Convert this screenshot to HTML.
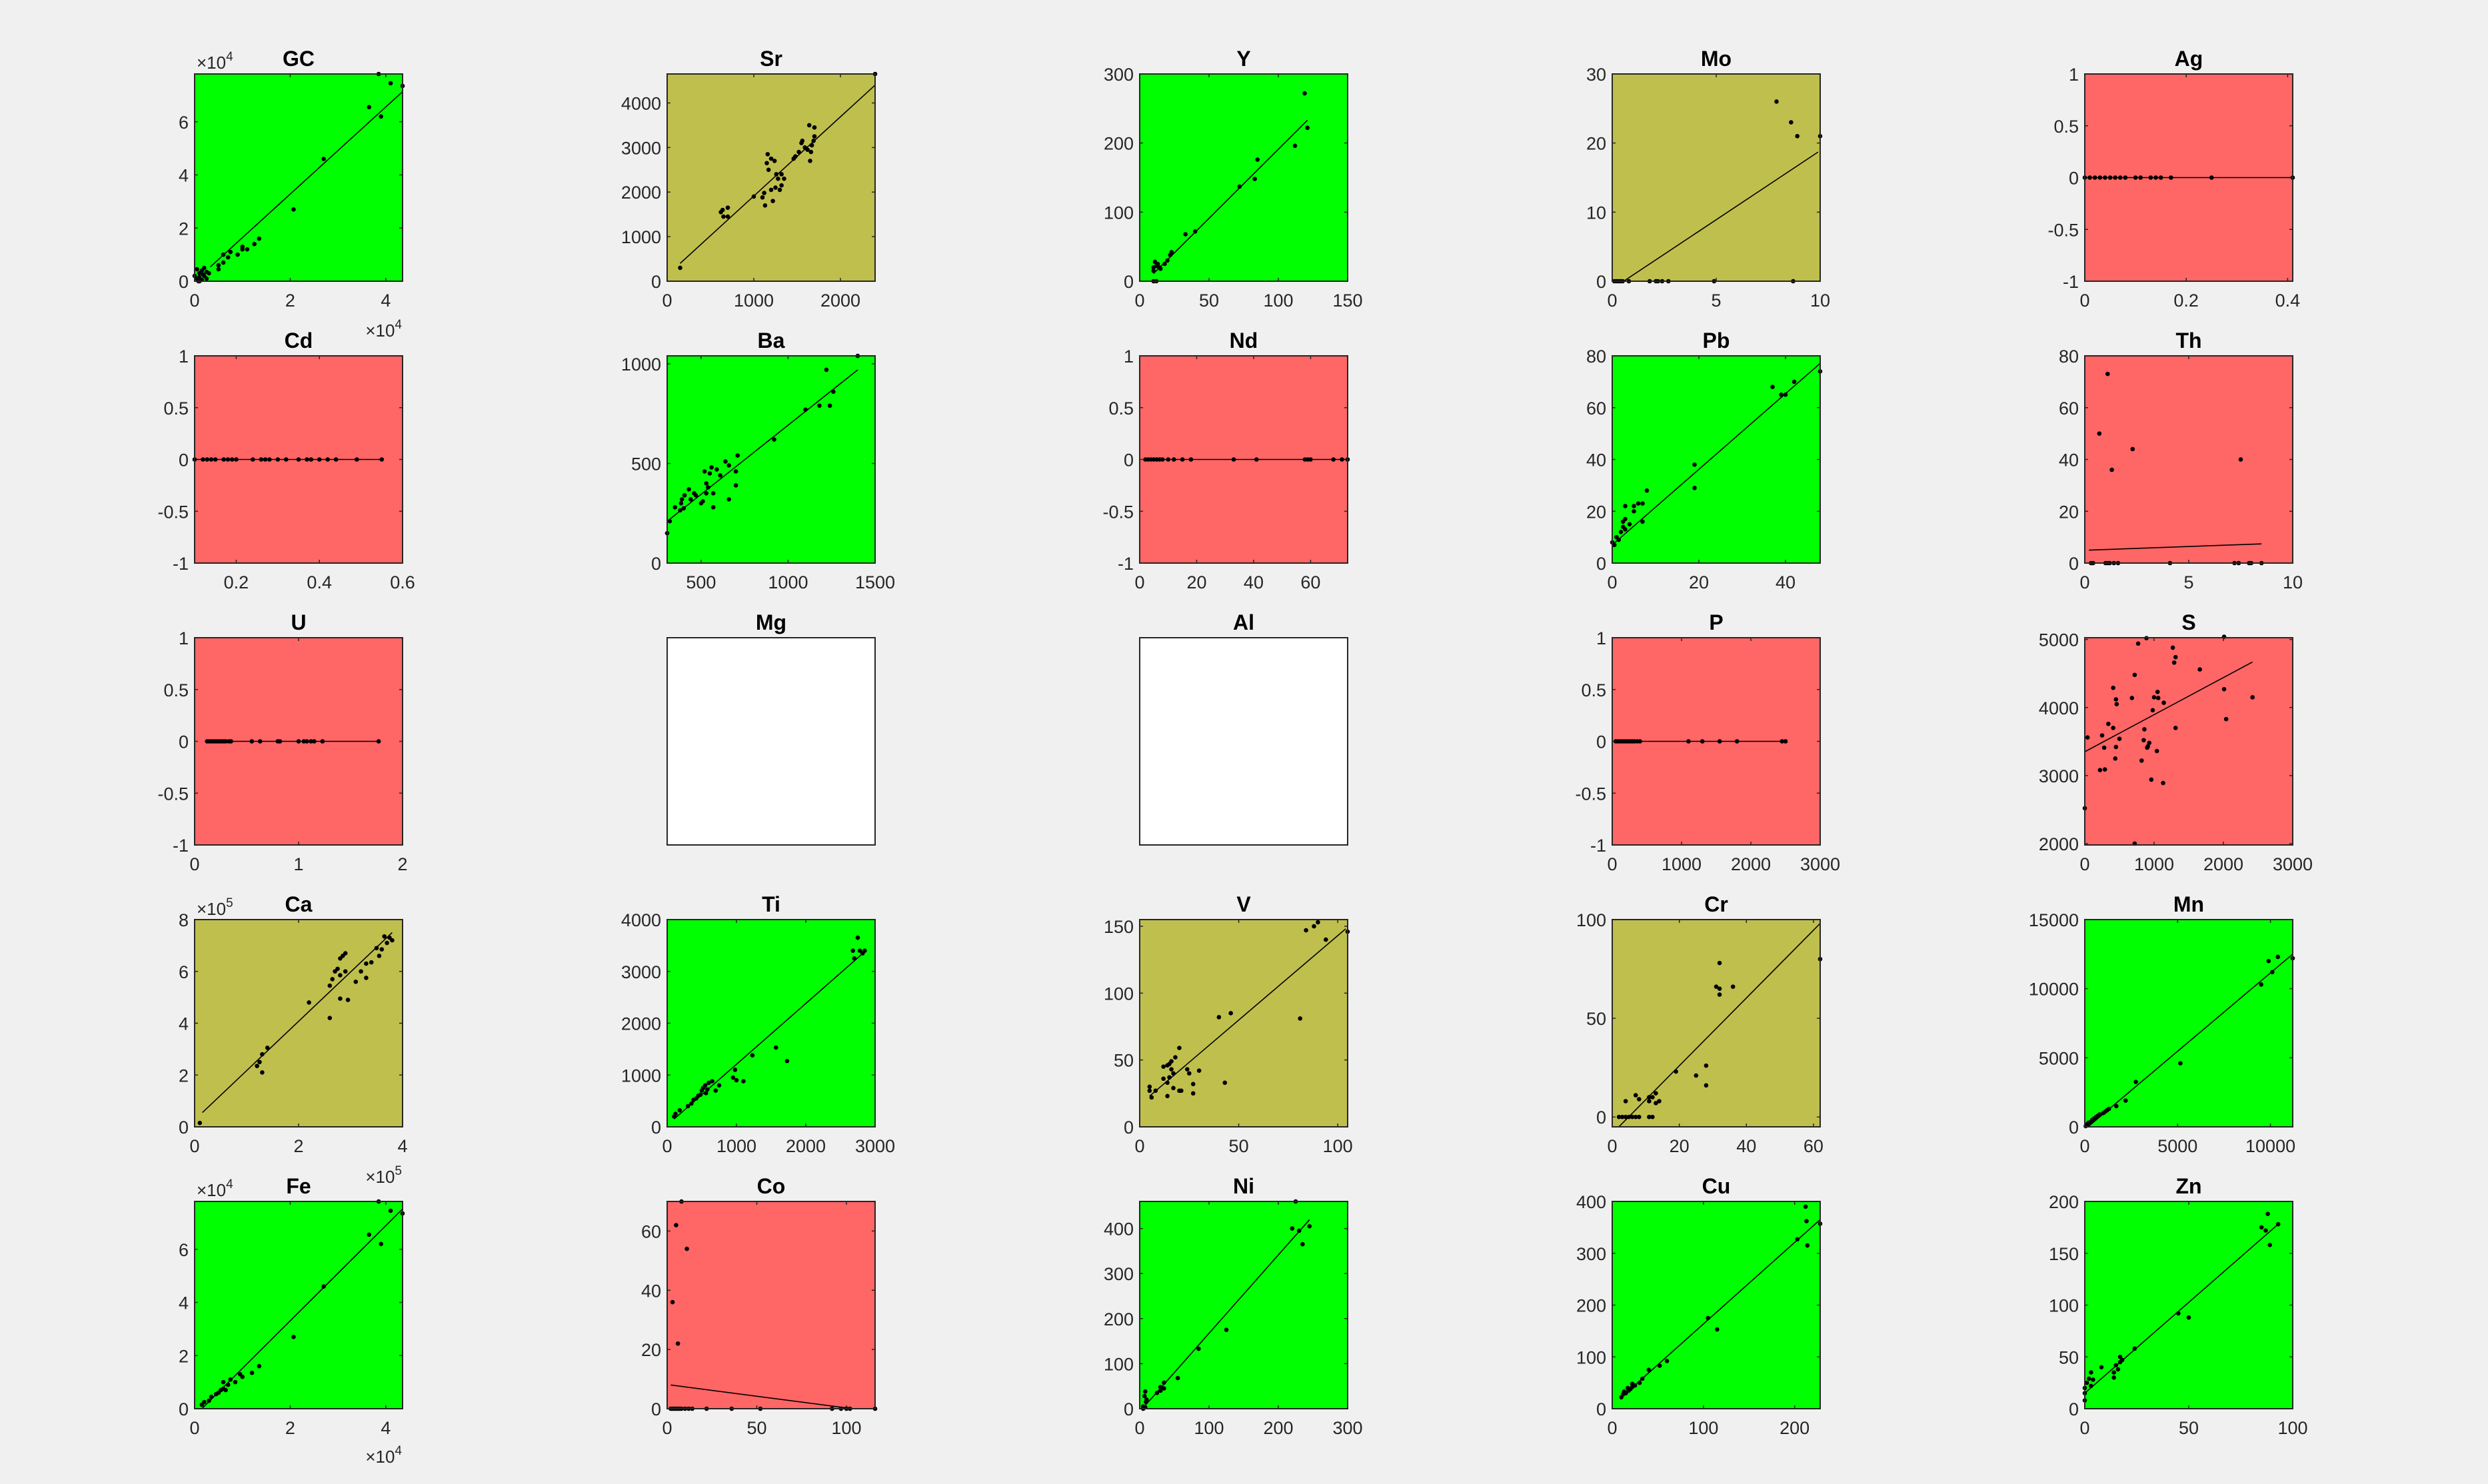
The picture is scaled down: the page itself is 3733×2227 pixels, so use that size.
<!DOCTYPE html>
<html><head><meta charset="utf-8"><title>Element scatter grid</title>
<style>
html,body{margin:0;padding:0;background:#f0f0f0;}
svg{display:block;font-family:"Liberation Sans",Arial,sans-serif;}
</style></head>
<body>
<svg id="fig" width="3733" height="2227" viewBox="0 0 3733 2227" xmlns="http://www.w3.org/2000/svg">
<rect x="0" y="0" width="3733" height="2227" fill="#f0f0f0"/>
</svg>
<script>
// ---- panel configuration ----
const panelNames = ["GC","Sr","Y","Mo","Ag","Cd","Ba","Nd","Pb","Th","U","Mg","Al","P","S","Ca","Ti","V","Cr","Mn","Fe","Co","Ni","Cu","Zn"];
const panelColors = ["#00ff00","#bfbf4e","#00ff00","#bfbf4e","#ff6666","#ff6666","#00ff00","#ff6666","#00ff00","#ff6666","#ff6666","#ffffff","#ffffff","#ff6666","#ff6666","#bfbf4e","#00ff00","#bfbf4e","#bfbf4e","#00ff00","#00ff00","#ff6666","#00ff00","#00ff00","#00ff00"];
const xMin = [0,0,0,0,0,0.1,305,0,0,0,0,0,0,0,0,0,0,0,0,0,0,0,0,0,0];
const xMax = [4.35,2400,150,10,0.41,0.6,1500,73,48,10,2,1,1,3000,3000,4,3000,105,62,11200,4.35,116,300,228,100];
const yMin = [0,0,0,0,-1,-1,0,-1,0,0,-1,0,0,-1,1980,0,0,0,-5,0,0,0,0,0,0];
const yMax = [7.8,4650,300,30,1,1,1040,1,80,80,1,1,1,1,5026,8,4000,155,100,15000,7.8,70,460,400,200];
const xTicks = [[0,2,4],[0,1000,2000],[0,50,100,150],[0,5,10],[0,0.2,0.4],[0.2,0.4,0.6],[500,1000,1500],[0,20,40,60],[0,20,40],[0,5,10],[0,1,2],[],[],[0,1000,2000,3000],[0,1000,2000,3000],[0,2,4],[0,1000,2000,3000],[0,50,100],[0,20,40,60],[0,5000,10000],[0,2,4],[0,50,100],[0,100,200,300],[0,100,200],[0,50,100]];
const yTicks = [[0,2,4,6],[0,1000,2000,3000,4000],[0,100,200,300],[0,10,20,30],[-1,-0.5,0,0.5,1],[-1,-0.5,0,0.5,1],[0,500,1000],[-1,-0.5,0,0.5,1],[0,20,40,60,80],[0,20,40,60,80],[-1,-0.5,0,0.5,1],[],[],[-1,-0.5,0,0.5,1],[2000,3000,4000,5000],[0,2,4,6,8],[0,1000,2000,3000,4000],[0,50,100,150],[0,50,100],[0,5000,10000,15000],[0,2,4,6],[0,20,40,60],[0,100,200,300,400],[0,100,200,300,400],[0,50,100,150,200]];
// fitted line: slope, intercept, x-range
const fitSlope = [1.64,1.778,2.0,2.0,0,0,0.694,0,1.46,0.29,0,null,null,0,0.545,1.904,1.174,1.263,1.717,1.134,1.79,-0.079,1.74,1.573,1.753];
const fitIntercept = [0.0,133,-9,-1.1,0,0,-2,0,7,4.95,0,null,null,0,3350,0.265,32.6,16.7,-8.4,-200,-0.27,8.16,-6.7,6.3,15];
const fitX0 = [0.33,150,10,0,0,0.1,305,2,0,0.2,0.12,null,null,50,0,0.15,100,5,2,0,0.15,2,5,10,0];
const fitX1 = [4.35,2400,121,9.9,0.41,0.55,1400,73,48,8.5,1.77,null,null,2500,2420,3.8,2800,104,62,11200,4.35,116,245,228,93];

// ---- data arrays ----
const GC_x = [0.05,0.1,0.15,0.2,0.1,0.25,0.05,0.2,0.15,0.3,0.25,0.0,0.1,0.18,0.08,0.5,0.6,0.7,0.75,0.6,0.9,1.0,1.0,1.1,1.25,1.35,0.5,2.07,2.7,3.65,3.9,3.85,4.1,4.35];
const GC_y = [0.1,0.3,0.4,0.2,0.0,0.35,0.45,0.5,0.05,0.3,0.1,0.2,0.15,0.25,0.0,0.6,0.7,0.9,1.1,1.0,1.0,1.3,1.2,1.2,1.4,1.6,0.45,2.7,4.6,6.55,6.2,7.8,7.45,7.35];
const Sr_x = [150,620,640,700,650,700,1000,1100,1120,1130,1150,1160,1170,1200,1240,1200,1220,1250,1260,1280,1300,1320,1320,1350,1460,1480,1520,1550,1560,1590,1620,1650,1660,1640,1700,1700,1690,1670,2400];
const Sr_y = [300,1550,1600,1650,1450,1450,1900,1880,1980,1700,2650,2850,2500,2750,2700,2050,1800,2100,2400,2300,2050,2400,2150,2300,2750,2800,2900,3100,3150,3000,2950,2700,2900,3500,3450,3250,3150,3050,4650];
const Y_x = [10,12,10,10,12,14,11,13,15,18,20,22,23,33,40,72,83,85,112,119,121];
const Y_y = [0,0,15,20,22,20,28,25,18,25,30,38,42,68,72,137,148,176,196,272,222];
const Mo_x = [0.1,0.2,0.3,0.4,0.5,0.8,1.8,2.1,2.2,2.4,2.7,4.9,8.7,7.9,8.6,8.9,10];
const Mo_y = [0,0,0,0,0,0,0,0,0,0,0,0,0,26,23,21,21];
const Ag_x = [0,0.01,0.02,0.03,0.04,0.05,0.06,0.07,0.08,0.1,0.11,0.13,0.14,0.15,0.17,0.25,0.41];
const Ag_y = [0,0,0,0,0,0,0,0,0,0,0,0,0,0,0,0,0];
const Cd_x = [0.1,0.12,0.13,0.14,0.15,0.17,0.18,0.19,0.2,0.24,0.26,0.27,0.28,0.3,0.32,0.35,0.37,0.38,0.4,0.42,0.44,0.49,0.55];
const Cd_y = [0,0,0,0,0,0,0,0,0,0,0,0,0,0,0,0,0,0,0,0,0,0,0];
const Ba_x = [305,320,350,380,385,390,400,405,430,440,460,470,500,510,520,530,530,540,550,560,570,570,590,610,640,660,660,700,700,710,920,1100,1180,1240,1260,1220,1400];
const Ba_y = [150,210,280,265,300,320,275,340,370,320,350,340,300,310,460,400,350,380,450,480,280,350,470,440,510,320,490,390,460,540,620,770,790,790,860,970,1040];
const Nd_x = [2,3,4,5,6,7,8,10,12,15,18,33,41,58,59,60,68,71,73];
const Nd_y = [0,0,0,0,0,0,0,0,0,0,0,0,0,0,0,0,0,0,0];
const Pb_x = [0,0.5,1,1.5,2,2.5,2.5,3,3,4,3,5,5,6,7,7,8,19,19,37,39,40,42,48];
const Pb_y = [8,7,10,9,12,14,16,13,17,15,22,20,22,23,16,23,28,38,29,68,65,65,70,74];
const Th_x = [0.3,0.4,1,1.1,1.2,1.4,1.6,4.1,7.2,7.4,7.9,8.0,8.5,0.7,1.1,1.3,2.3,7.5];
const Th_y = [0,0,0,0,0,0,0,0,0,0,0,0,0,50,73,36,44,40];
const U_x = [0.12,0.14,0.16,0.18,0.2,0.22,0.24,0.26,0.28,0.3,0.33,0.35,0.55,0.63,0.8,0.82,1.0,1.05,1.08,1.12,1.15,1.23,1.77];
const U_y = [0,0,0,0,0,0,0,0,0,0,0,0,0,0,0,0,0,0,0,0,0,0,0];
const Mg_x = [];
const Mg_y = [];
const Al_x = [];
const Al_y = [];
const P_x = [50,80,110,140,170,200,230,260,290,320,360,400,1100,1300,1550,1800,2450,2500];
const P_y = [0,0,0,0,0,0,0,0,0,0,0,0,0,0,0,0,0,0];
const S_x = [0,40,250,280,220,290,340,410,410,440,450,450,460,500,680,720,720,770,820,850,860,890,900,910,930,960,980,1000,1040,1050,1060,1130,1140,1270,1290,1310,1310,1660,2010,2010,2040,2420];
const S_y = [2520,3560,3590,3410,3080,3090,3760,3700,4290,3250,4120,3420,4050,3540,4140,4480,2000,4940,3220,3520,3680,5020,3410,3430,3480,2940,3960,4150,3360,4230,4140,2890,4070,4880,4660,4740,3700,4560,4270,5040,3830,4150];
const Ca_x = [0.1,1.2,1.25,1.3,1.3,1.4,2.2,2.6,2.6,2.65,2.7,2.75,2.8,2.8,2.85,2.9,2.9,2.8,2.95,3.1,3.2,3.3,3.3,3.4,3.5,3.55,3.6,3.65,3.7,3.75,3.8];
const Ca_y = [0.15,2.35,2.5,2.8,2.1,3.05,4.8,4.2,5.45,5.7,6.0,6.1,5.85,6.5,6.6,6.7,6.0,4.95,4.9,5.6,6.0,5.75,6.3,6.35,6.9,6.6,6.85,7.35,7.1,7.3,7.2];
const Ti_x = [100,120,180,300,350,380,420,450,480,500,520,550,560,580,600,650,700,750,950,980,1000,1100,1230,1570,1730,2680,2700,2750,2780,2820,2850];
const Ti_y = [200,250,320,400,450,520,550,600,620,700,750,800,650,720,850,880,700,800,950,1100,900,880,1380,1530,1270,3400,3250,3650,3400,3350,3400];
const V_x = [5,5,6,8,12,12,14,14,14,15,15,16,16,17,17,18,20,21,20,24,25,27,27,30,40,43,46,81,84,88,90,94,105];
const V_y = [27,30,22,27,36,45,46,23,33,37,47,43,49,29,40,52,27,27,59,43,40,25,32,42,82,33,85,81,147,150,153,140,146];
const Cr_x = [2,3,4,5,6,7,8,4,7,8,11,11,12,11,12,13,13,14,19,25,28,28,31,32,32,32,36,62];
const Cr_y = [0,0,0,0,0,0,0,8,11,9,8,10,10,0,0,12,7,8,23,21,26,16,66,65,62,78,66,80];
const Mn_x = [50,100,150,200,300,400,500,600,700,800,1000,1100,1200,1300,1700,2200,2750,5150,9500,9900,10100,10400,11200];
const Mn_y = [50,150,200,300,350,500,600,700,800,900,1000,1100,1200,1300,1500,1900,3250,4600,10300,12000,11200,12300,12200];
const Fe_x = [0.15,0.2,0.3,0.35,0.45,0.5,0.55,0.6,0.6,0.65,0.7,0.75,0.85,0.95,1.0,1.2,1.35,2.07,2.7,3.65,3.9,3.85,4.1,4.35];
const Fe_y = [0.15,0.25,0.3,0.45,0.55,0.6,0.7,0.75,1.0,0.7,0.9,1.1,1.0,1.3,1.2,1.35,1.6,2.7,4.6,6.55,6.2,7.8,7.45,7.35];
const Co_x = [2,3,4,5,6,7,8,10,12,14,22,36,52,92,97,100,102,116,3,5,6,8,11];
const Co_y = [0,0,0,0,0,0,0,0,0,0,0,0,0,0,0,0,0,0,36,62,22,70,54];
const Ni_x = [5,6,8,5,7,8,10,9,25,30,30,35,35,55,85,125,220,230,235,245,225];
const Ni_y = [0,2,3,5,28,38,20,15,35,40,48,45,58,68,133,175,400,395,365,405,460];
const Cu_x = [10,12,13,15,17,18,20,22,22,25,30,33,40,52,60,105,115,203,212,213,214,228];
const Cu_y = [22,28,33,30,40,35,38,42,48,45,50,58,75,83,92,175,153,327,390,362,315,357];
const Zn_x = [0,0,0,1,2,3,3,4,8,14,14,15,16,17,17,18,24,45,50,85,87,88,89,93];
const Zn_y = [8,15,20,25,29,35,22,28,40,35,30,42,38,45,50,47,58,92,88,175,172,188,158,178];
const allX = [GC_x,Sr_x,Y_x,Mo_x,Ag_x,Cd_x,Ba_x,Nd_x,Pb_x,Th_x,U_x,Mg_x,Al_x,P_x,S_x,Ca_x,Ti_x,V_x,Cr_x,Mn_x,Fe_x,Co_x,Ni_x,Cu_x,Zn_x];
const allY = [GC_y,Sr_y,Y_y,Mo_y,Ag_y,Cd_y,Ba_y,Nd_y,Pb_y,Th_y,U_y,Mg_y,Al_y,P_y,S_y,Ca_y,Ti_y,V_y,Cr_y,Mn_y,Fe_y,Co_y,Ni_y,Cu_y,Zn_y];

// ---- drawing ----
const NS = "http://www.w3.org/2000/svg";
const svg = document.getElementById("fig");
const AX_W = 312, AX_H = 311;
function mk(tag, attrs, parent) {
  const e = document.createElementNS(NS, tag);
  for (const k in attrs) e.setAttribute(k, attrs[k]);
  (parent || svg).appendChild(e);
  return e;
}
function fmt(v) { return String(v); }
function addExp(x, y, p, anchor, name) {
  const t = mk("text", {x: x, y: y, "font-size": 26, fill: "#262626", "text-anchor": anchor});
  
  
  const a = mk("tspan", {}, t); a.textContent = "×10";
  const b = mk("tspan", {dy: -12, "font-size": 19}, t); b.textContent = String(p);
}
panelNames.forEach(function(name, i) {
  const r = Math.floor(i / 5), c = i % 5;
  const L = 292 + 709 * c, T = 111 + 423 * r, R = L + AX_W, B = T + AX_H;
  const g = mk("g", {});
  
  
  const sx = function(v) { return L + (v - xMin[i]) / (xMax[i] - xMin[i]) * AX_W; };
  const sy = function(v) { return B - (v - yMin[i]) / (yMax[i] - yMin[i]) * AX_H; };
  const bg = mk("rect", {x: L, y: T, width: AX_W, height: AX_H, fill: panelColors[i]}, g);
  
  
  const clipId = "clip" + i;
  const cp = mk("clipPath", {id: clipId}, g);
  mk("rect", {x: L, y: T, width: AX_W, height: AX_H}, cp);
  // ticks and labels
  xTicks[i].forEach(function(v) {
    const x = sx(v);
    const tk = mk("path", {d: "M" + x + " " + B + "v-5M" + x + " " + T + "v5", stroke: "#262626", "stroke-width": 1.5}, g);
    
    
    const lb = mk("text", {x: x, y: B + 38, "font-size": 27, fill: "#262626", "text-anchor": "middle"}, g);
    
    
    lb.textContent = fmt(v);
  });
  yTicks[i].forEach(function(v) {
    const y = sy(v);
    const tk = mk("path", {d: "M" + L + " " + y + "h5M" + R + " " + y + "h-5", stroke: "#262626", "stroke-width": 1.5}, g);
    
    
    const lb = mk("text", {x: L - 9, y: y + 10, "font-size": 27, fill: "#262626", "text-anchor": "end"}, g);
    
    
    lb.textContent = fmt(v);
  });
  // fit line
  if (fitSlope[i] !== null) {
    const x0 = fitX0[i], x1 = fitX1[i];
    const ln = mk("line", {x1: sx(x0), y1: sy(fitSlope[i] * x0 + fitIntercept[i]), x2: sx(x1), y2: sy(fitSlope[i] * x1 + fitIntercept[i]), stroke: "#000", "stroke-width": 1.6, "clip-path": "url(#" + clipId + ")"}, g);
    
    
  }
  // points
  allX[i].forEach(function(xv, k) {
    const pt = mk("circle", {cx: sx(xv), cy: sy(allY[i][k]), r: 3.3, fill: "#000"}, g);
    
    
  });
  // box
  const box = mk("rect", {x: L, y: T, width: AX_W, height: AX_H, fill: "none", stroke: "#262626", "stroke-width": 2}, g);
  
  
  const tt = mk("text", {x: L + AX_W / 2, y: T - 12, "font-size": 32, "font-weight": "bold", fill: "#000", "text-anchor": "middle"}, g);
  
  
  tt.textContent = name;
});
// exponent labels
addExp(295, 103, 4, "start", "gc-y-exponent");
addExp(603, 505, 4, "end", "gc-x-exponent");
addExp(295, 1373, 5, "start", "ca-y-exponent");
addExp(603, 1775, 5, "end", "ca-x-exponent");
addExp(295, 1795, 4, "start", "fe-y-exponent");
addExp(603, 2195, 4, "end", "fe-x-exponent");
</script>
</body></html>
